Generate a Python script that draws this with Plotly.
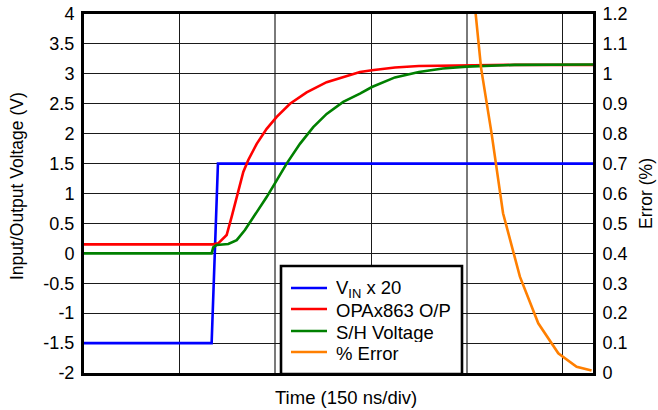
import plotly.graph_objects as go

# x in divisions (150 ns/div)
vin_x = [0.0, 1.334, 1.40, 5.32]
vin_y = [-1.5, -1.5, 1.5, 1.5]

opa_x = [0.0, 1.348, 1.403, 1.491, 1.543, 1.612, 1.665, 1.717, 1.805, 1.909, 2.014, 2.153,
         2.327, 2.536, 2.745, 2.884, 3.009, 3.25, 3.5, 4.0, 4.5, 5.32]
opa_y = [0.15, 0.15, 0.167, 0.306, 0.61, 1.06, 1.36, 1.56, 1.83, 2.08, 2.28, 2.5,
         2.69, 2.86, 2.97, 3.03, 3.06, 3.105, 3.13, 3.145, 3.15, 3.15]

sh_x = [0.0, 1.334, 1.351, 1.387, 1.508, 1.596, 1.682, 1.787, 1.909, 2.014, 2.118, 2.257,
        2.396, 2.536, 2.709, 2.884, 3.009, 3.25, 3.5, 3.75, 4.0, 4.5, 5.32]
sh_y = [0.0, 0.0, 0.1, 0.14, 0.156, 0.22, 0.39, 0.64, 0.94, 1.22, 1.5, 1.83,
        2.11, 2.33, 2.53, 2.67, 2.78, 2.94, 3.03, 3.09, 3.12, 3.15, 3.155]

err_x = [4.05, 4.096, 4.15, 4.26, 4.38, 4.556, 4.748, 4.957, 5.149, 5.305]
err_y = [1.34, 1.202, 1.02, 0.801, 0.534, 0.322, 0.166, 0.066, 0.021, 0.008]

left_vals = [-2, -1.5, -1, -0.5, 0, 0.5, 1, 1.5, 2, 2.5, 3, 3.5, 4]
left_text = ["-2", "-1.5", "-1", "-0.5", "0", "0.5", "1", "1.5", "2", "2.5", "3", "3.5", "4"]
right_vals = [0, 0.1, 0.2, 0.3, 0.4, 0.5, 0.6, 0.7, 0.8, 0.9, 1.0, 1.1, 1.2]
right_text = ["0", "0.1", "0.2", "0.3", "0.4", "0.5", "0.6", "0.7", "0.8", "0.9", "1", "1.1", "1.2"]
x_grid_dark = [1, 3, 5]
x_grid_gray = [2, 4]

names = ["V<sub>IN</sub> x 20", "OPAx863 O/P", "S/H Voltage", "% Error"]
colors = ["#0000ff", "#ff0000", "#008000", "#ff7f00"]

x_title = "Time (150 ns/div)"
y_title = "Input/Output Voltage (V)"
y2_title = "Error (%)"

FONT = "Liberation Sans, Arial, Helvetica, sans-serif"

# plot area geometry (pixels)
W, H = 658, 410
L, R, T, B = 84, 593, 14, 373
PW, PH = R - L, B - T


def px(xp):
    return (xp - L) / PW


def py(yp):
    return (B - yp) / PH


fig = go.Figure()
series = [(vin_x, vin_y, "y"), (opa_x, opa_y, "y"), (sh_x, sh_y, "y"), (err_x, err_y, "y2")]
for (xs, ys, ax), nm, col in zip(series, names, colors):
    fig.add_trace(go.Scatter(x=xs, y=ys, mode="lines", name=nm, yaxis=ax,
                             line=dict(color=col, width=2.6), showlegend=False))

shapes = []
annotations = []

# custom legend box
shapes.append(dict(type="rect", xref="paper", yref="paper",
                   x0=px(281), x1=px(462), y0=py(374), y1=py(266),
                   fillcolor="white", line=dict(color="black", width=2.6), layer="above"))
row_y = [288, 309, 331, 352]
for nm, col, ry in zip(names, colors, row_y):
    shapes.append(dict(type="line", xref="paper", yref="paper",
                       x0=px(291), x1=px(327), y0=py(ry), y1=py(ry),
                       line=dict(color=col, width=2.6), layer="above"))
    annotations.append(dict(text=nm, xref="paper", yref="paper", x=px(335), y=py(ry + 0.5),
                            xanchor="left", yanchor="middle", showarrow=False,
                            height=20, valign="middle", borderpad=0,
                            font=dict(family=FONT, size=18.5, color="black")))

# axis titles
annotations.append(dict(text=x_title, xref="paper", yref="paper", x=px(346), y=py(397),
                        xanchor="center", yanchor="middle", showarrow=False,
                        font=dict(family=FONT, size=18.5, color="black")))
annotations.append(dict(text=y_title, xref="paper", yref="paper", x=px(17), y=py(186),
                        xanchor="center", yanchor="middle", showarrow=False, textangle=-90,
                        font=dict(family=FONT, size=17.5, color="black")))
annotations.append(dict(text=y2_title, xref="paper", yref="paper", x=px(646), y=py(194),
                        xanchor="center", yanchor="middle", showarrow=False, textangle=-90,
                        font=dict(family=FONT, size=17.5, color="black")))

fig.update_layout(
    width=W, height=H,
    margin=dict(l=L, r=W - R, t=T, b=H - B, autoexpand=False),
    paper_bgcolor="white", plot_bgcolor="white",
    font=dict(family=FONT, size=18, color="black"),
    showlegend=False,
    shapes=shapes,
    annotations=annotations,
    xaxis=dict(range=[0, 5.32], tickvals=x_grid_dark, showticklabels=False,
               showgrid=True, gridcolor="#1a1a1a", gridwidth=1,
               minor=dict(tickvals=x_grid_gray, showgrid=True, gridcolor="#7a7a7a", gridwidth=1.6, ticks=""),
               showline=True, linecolor="black", linewidth=3, mirror=True,
               zeroline=False, ticks=""),
    yaxis=dict(range=[-2, 4], tickvals=left_vals, ticktext=left_text,
               showgrid=True, gridcolor="#1a1a1a", gridwidth=1,
               showline=True, linecolor="black", linewidth=3,
               zeroline=False, ticks="", ticklabelstandoff=3,
               tickfont=dict(size=18)),
    yaxis2=dict(range=[0, 1.2], tickvals=right_vals, ticktext=right_text,
                overlaying="y", side="right", showgrid=False,
                showline=True, linecolor="black", linewidth=3,
                zeroline=False, ticks="", ticklabelstandoff=3,
                tickfont=dict(size=18)),
)

fig.write_html("out.html")
